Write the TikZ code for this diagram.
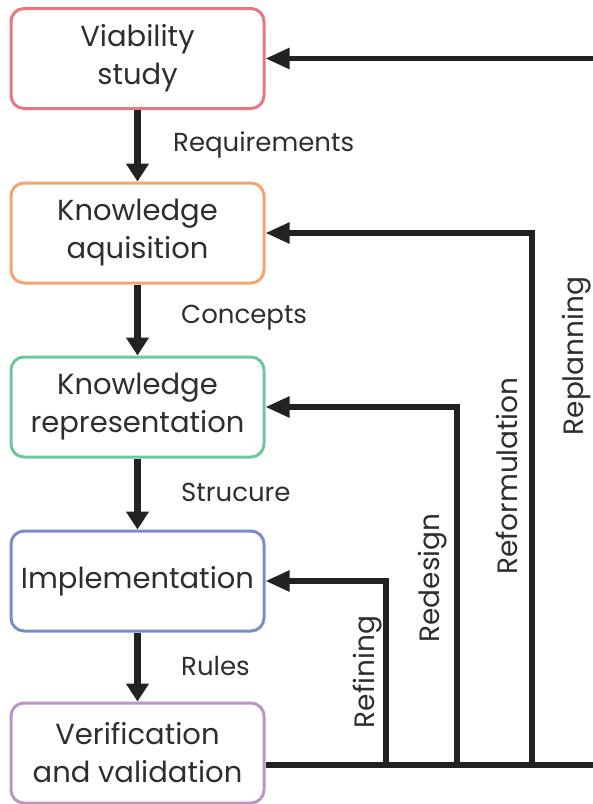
\documentclass[tikz,border=0pt]{standalone}
\usepackage{fontspec}
\setmainfont{Poppins}
\usetikzlibrary{arrows.meta}
\definecolor{cred}{HTML}{E8767E}
\definecolor{corange}{HTML}{F4A46E}
\definecolor{cgreen}{HTML}{6DC99B}
\definecolor{cblue}{HTML}{7B8DC9}
\definecolor{cpurple}{HTML}{B896CA}
\definecolor{ink}{HTML}{222222}
\definecolor{tink}{HTML}{2E2E2E}
\begin{document}
\begin{tikzpicture}[x=1pt,y=-1pt,
  box/.style={draw=#1, line width=3pt, rounded corners=13pt, minimum width=253pt, minimum height=100pt, align=center, inner sep=0pt, font=\fontsize{29}{38}\selectfont, text=tink},
  flow/.style={draw=ink, line width=7pt, -{Triangle[width=22pt,length=18pt]}},
  fb/.style={draw=ink, line width=5.5pt, -{Triangle[width=20pt,length=24pt]}},
  lbl/.style={font=\fontsize{26}{30}\selectfont, text=tink, inner sep=0pt},
  rlbl/.style={font=\fontsize{28}{32}\selectfont, text=tink, inner sep=0pt, rotate=90}]
\useasboundingbox (0,0) rectangle (593,804);
\begin{scope}
\clip (0,0) rectangle (593,804);
\node[box=cred]    (b1) at (137.5,58.5) {Viability\\study};
\node[box=corange] (b2) at (137.5,233)  {Knowledge\\aquisition};
\node[box=cgreen]  (b3) at (137.5,407)  {Knowledge\\representation};
\node[box=cblue]   (b4) at (137.5,581)  {Implementation};
\node[box=cpurple] (b5) at (137.5,753)  {Verification\\and validation};

\draw[flow] (b1) -- (b2);
\draw[flow] (b2) -- (b3);
\draw[flow] (b3) -- (b4);
\draw[flow] (b4) -- (b5);

\node[lbl, anchor=west] (l1) at (173,145) {Requirements};
\node[lbl, anchor=west] (l2) at (181,318) {Concepts};
\node[lbl, anchor=west] (l3) at (181,492) {Strucure};
\node[lbl, anchor=west] (l4) at (181,666) {Rules};

\coordinate (s) at (b5.east |- 0,765);
\coordinate (v1) at (386,765);
\coordinate (v2) at (457,765);
\coordinate (v3) at (532,765);
\coordinate (v4) at (610,765);
\draw[draw=ink, line width=5.5pt] (s) -- (v4);
\draw[fb] (v1) |- (b4.east);
\draw[fb] (v2) |- (b3.east);
\draw[fb] (v3) |- (b2.east);
\draw[fb] (v4) |- (b1.east);

\node[rlbl] (r1) at (368,672) {Refining};
\node[rlbl] (r2) at (433,578) {Redesign};
\node[rlbl] (r3) at (507,476) {Reformulation};
\node[rlbl] (r4) at (577,356) {Replanning};
\end{scope}
\end{tikzpicture}
\end{document}
